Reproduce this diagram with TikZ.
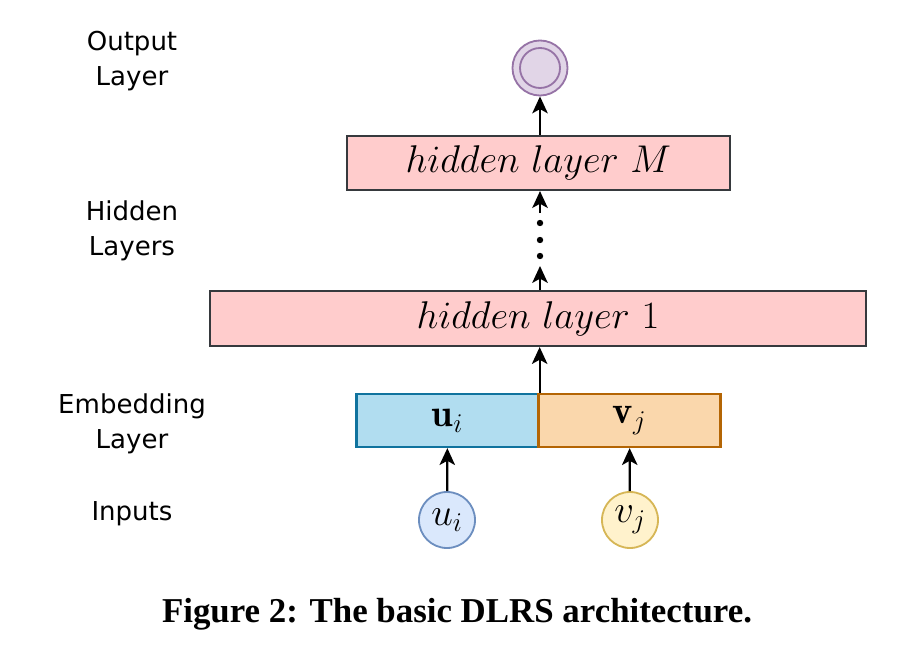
\documentclass[tikz,border=0pt]{standalone}
\usepackage{fix-cm}
\usepackage{fontspec}
\usetikzlibrary{arrows.meta}
\newfontfamily\sidefont{DejaVu Sans}
\newfontfamily\capfont{Liberation Serif}
\definecolor{hidfill}{HTML}{FFCCCC}
\definecolor{hiddraw}{HTML}{36393D}
\definecolor{ufill}{HTML}{B1DDF0}
\definecolor{udraw}{HTML}{10739E}
\definecolor{vfill}{HTML}{FAD7AC}
\definecolor{vdraw}{HTML}{B46504}
\definecolor{iufill}{HTML}{DAE8FC}
\definecolor{iudraw}{HTML}{6C8EBF}
\definecolor{ivfill}{HTML}{FFF2CC}
\definecolor{ivdraw}{HTML}{D6B656}
\definecolor{outfill}{HTML}{E1D5E7}
\definecolor{outdraw}{HTML}{9673A6}

\begin{document}
\begin{tikzpicture}[x=0.025cm,y=-0.025cm,line join=miter]
      \useasboundingbox (0,0) rectangle (920,656);
      \tikzstyle{arr}=[line width=1.6pt,-{Stealth[length=12pt,width=11pt,inset=3pt]}]
      \tikzstyle{side}=[align=center,font=\sidefont\fontsize{18.5}{24.5}\selectfont]
      \tikzstyle{layer}=[draw=hiddraw,line width=1.5pt,fill=hidfill,inner sep=0pt,font=\fontsize{27.5}{32}\selectfont]
      \tikzstyle{emb}=[line width=1.6pt,inner sep=0pt,minimum width=4.55cm,minimum height=1.325cm,font=\fontsize{27.5}{32}\selectfont]
      \tikzstyle{inp}=[circle,line width=1.3pt,minimum size=1.4cm,inner sep=0pt,font=\fontsize{27.5}{32}\selectfont]
      \tikzstyle{dot}=[circle,fill=black,inner sep=0pt,minimum size=0.16cm]
      % left column
      \node [side] (lout) at (132,61) {Output\\Layer};
      \node [side] (lhid) at (132,231) {Hidden\\Layers};
      \node [side] (lemb) at (132,424) {Embedding\\Layer};
      \node [side] (linp) at (132,514) {Inputs};
      % network
      \node [inp,draw=outdraw,fill=outfill,minimum size=1.375cm] (out) at (540,68) {};
      \node [circle,draw=outdraw,line width=1.3pt,minimum size=1.0cm,inner sep=0pt] (outin) at (out) {};
      \node [layer,minimum width=9.575cm,minimum height=1.35cm] (hM) at (538.5,163) {$hidden\ layer\ M$};
      \node [layer,minimum width=16.4cm,minimum height=1.375cm] (h1) at (538,318.5) {$hidden\ layer\ 1$};
      \node [emb,draw=udraw,fill=ufill] (eu) at (447.5,420.5) {$\mathbf{u}_i$};
      \node [emb,draw=vdraw,fill=vfill] (ev) at (629.5,420.5) {$\mathbf{v}_j$};
      \node [inp,draw=iudraw,fill=iufill] (iu) at (447,520) {$u_i$};
      \node [inp,draw=ivdraw,fill=ivfill] (iv) at (630,520) {$v_j$};
      \coordinate (gaplo) at (540,266);
      \coordinate (gaphi) at (540,213);
      \node [dot] (d1) at (540,223) {};
      \node [dot] (d2) at (540,240) {};
      \node [dot] (d3) at (540,256) {};
      \draw [arr] (iu) -- (eu);
      \draw [arr] (iv) -- (ev);
      \draw [arr] (eu.north east) -- (eu.north east |- h1.south);
      \draw [arr] (h1.north -| gaplo) -- (gaplo);
      \draw [arr] (gaphi) -- (gaphi |- hM.south);
      \draw [arr] (hM.north -| out) -- (out);
      % caption
      \node [font=\capfont\bfseries\fontsize{24.8}{28}\selectfont] (cap) at (457,614) {Figure 2: The basic DLRS architecture.};
\end{tikzpicture}
\end{document}
